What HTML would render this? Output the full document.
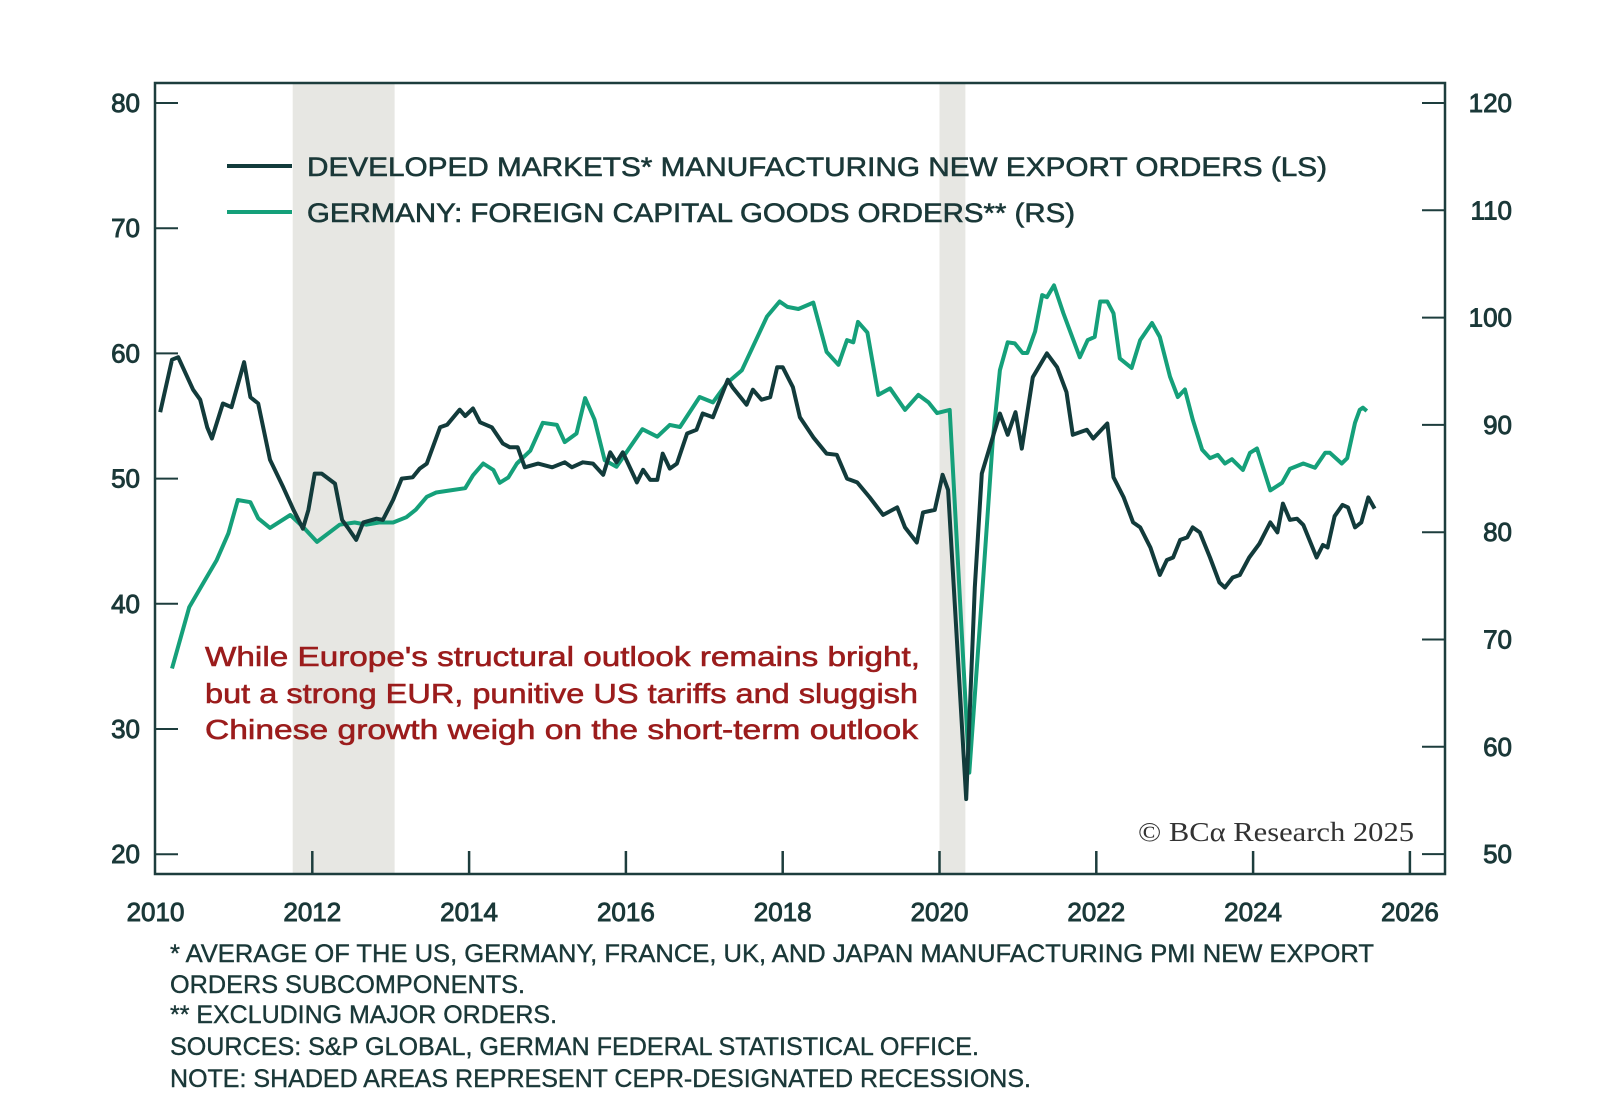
<!DOCTYPE html>
<html><head><meta charset="utf-8"><style>
html,body{margin:0;padding:0;background:#fff;}
svg{display:block;}
text{font-family:"Liberation Sans",sans-serif;}
</style></head><body>
<svg id="chart" width="1600" height="1107" viewBox="0 0 1600 1107">
<g id="shade"></g>
<g id="axes"></g>
<g id="series"></g>
<g stroke="#1a3838" stroke-width="0.6">
<line x1="227" y1="166" x2="292" y2="166" stroke="#123b3b" stroke-width="4"/>
<text x="307" y="176" font-size="27" fill="#1a3838" textLength="1020" lengthAdjust="spacingAndGlyphs">DEVELOPED MARKETS* MANUFACTURING NEW EXPORT ORDERS (LS)</text>
<line x1="227" y1="212" x2="292" y2="212" stroke="#15a07a" stroke-width="4"/>
<text x="307" y="222" font-size="27" fill="#1a3838" textLength="768" lengthAdjust="spacingAndGlyphs">GERMANY: FOREIGN CAPITAL GOODS ORDERS** (RS)</text>
</g>
<g fill="#9b1c1c" stroke="#9b1c1c" stroke-width="0.6" font-size="28">
<text x="205" y="666" textLength="715" lengthAdjust="spacingAndGlyphs">While Europe's structural outlook remains bright,</text>
<text x="205" y="703" textLength="713" lengthAdjust="spacingAndGlyphs">but a strong EUR, punitive US tariffs and sluggish</text>
<text x="205" y="739" textLength="713" lengthAdjust="spacingAndGlyphs">Chinese growth weigh on the short-term outlook</text>
</g>
<text x="1138" y="841" font-size="27" fill="#333" textLength="276" lengthAdjust="spacingAndGlyphs" style="font-family:'Liberation Serif',serif">© BCα Research 2025</text>
<g fill="#1a3838" stroke="#1a3838" stroke-width="0.4" font-size="25">
<text x="170" y="962" textLength="1204" lengthAdjust="spacingAndGlyphs">* AVERAGE OF THE US, GERMANY, FRANCE, UK, AND JAPAN MANUFACTURING PMI NEW EXPORT</text>
<text x="170" y="993" textLength="355" lengthAdjust="spacingAndGlyphs">ORDERS SUBCOMPONENTS.</text>
<text x="170" y="1023" textLength="387" lengthAdjust="spacingAndGlyphs">** EXCLUDING MAJOR ORDERS.</text>
<text x="170" y="1055" textLength="809" lengthAdjust="spacingAndGlyphs">SOURCES: S&amp;P GLOBAL, GERMAN FEDERAL STATISTICAL OFFICE.</text>
<text x="170" y="1087" textLength="861" lengthAdjust="spacingAndGlyphs">NOTE: SHADED AREAS REPRESENT CEPR-DESIGNATED RECESSIONS.</text>
</g>
</svg>
<script>
const recessionStarts=[2011.75,2020.0];
const recessionEnds=[2013.05,2020.33];
const leftTicks=[20,30,40,50,60,70,80];
const rightTicks=[50,60,70,80,90,100,110,120];
const yearTicks=[2010,2012,2014,2016,2018,2020,2022,2024,2026];
const dmDates=[2010.06,2010.21,2010.29,2010.48,2010.57,2010.66,2010.72,2010.86,2010.97,2011.13,2011.21,2011.31,2011.46,2011.63,2011.76,2011.88,2011.95,2012.03,2012.12,2012.29,2012.38,2012.45,2012.56,2012.65,2012.82,2012.9,2013.03,2013.14,2013.28,2013.37,2013.46,2013.63,2013.72,2013.88,2013.95,2014.05,2014.14,2014.29,2014.43,2014.52,2014.62,2014.71,2014.88,2015.06,2015.22,2015.31,2015.45,2015.58,2015.71,2015.8,2015.88,2015.96,2016.14,2016.22,2016.31,2016.4,2016.47,2016.56,2016.65,2016.78,2016.9,2016.98,2017.11,2017.3,2017.36,2017.54,2017.62,2017.73,2017.84,2017.93,2018.0,2018.13,2018.22,2018.39,2018.56,2018.69,2018.82,2018.95,2019.11,2019.28,2019.46,2019.56,2019.71,2019.79,2019.94,2020.04,2020.11,2020.34,2020.45,2020.54,2020.64,2020.77,2020.87,2020.97,2021.05,2021.19,2021.37,2021.5,2021.62,2021.7,2021.88,2021.96,2022.14,2022.22,2022.35,2022.47,2022.56,2022.69,2022.81,2022.9,2022.98,2023.07,2023.16,2023.23,2023.32,2023.45,2023.57,2023.64,2023.74,2023.83,2023.95,2024.08,2024.22,2024.31,2024.38,2024.47,2024.56,2024.64,2024.81,2024.89,2024.95,2025.04,2025.14,2025.21,2025.3,2025.38,2025.47,2025.55];
const dmValues=[55.3,59.5,59.7,57.1,56.3,54.1,53.2,56.0,55.7,59.3,56.5,56.0,51.5,49.3,47.5,46.0,47.5,50.4,50.4,49.6,46.7,46.1,45.1,46.5,46.8,46.7,48.3,50.0,50.1,50.8,51.2,54.1,54.3,55.5,55.0,55.6,54.5,54.1,52.8,52.5,52.5,50.9,51.2,50.9,51.3,50.9,51.3,51.2,50.3,52.1,51.3,52.1,49.7,50.7,49.9,49.9,52.0,50.8,51.2,53.6,53.9,55.2,54.9,57.9,57.3,55.9,57.1,56.3,56.5,58.9,58.9,57.3,54.9,53.3,52.0,51.9,50.0,49.7,48.5,47.1,47.7,46.1,44.9,47.3,47.5,50.3,49.1,24.4,41.3,50.4,52.5,55.2,53.5,55.3,52.4,58.1,60.0,58.9,56.9,53.5,53.9,53.2,54.4,50.1,48.5,46.5,46.1,44.5,42.3,43.5,43.7,45.1,45.3,46.1,45.7,43.7,41.7,41.3,42.1,42.3,43.7,44.8,46.5,45.7,48.0,46.7,46.8,46.3,43.7,44.7,44.5,47.0,47.9,47.7,46.1,46.5,48.5,47.6];
const deDates=[2010.21,2010.43,2010.62,2010.78,2010.93,2011.05,2011.21,2011.31,2011.46,2011.72,2011.88,2012.06,2012.35,2012.54,2012.69,2012.85,2013.03,2013.2,2013.32,2013.46,2013.58,2013.76,2013.95,2014.05,2014.18,2014.31,2014.39,2014.5,2014.61,2014.78,2014.94,2015.12,2015.22,2015.37,2015.48,2015.6,2015.73,2015.88,2016.05,2016.21,2016.4,2016.56,2016.69,2016.94,2017.11,2017.29,2017.48,2017.8,2017.96,2018.06,2018.2,2018.39,2018.56,2018.71,2018.82,2018.9,2018.96,2019.08,2019.22,2019.37,2019.56,2019.73,2019.86,2019.97,2020.13,2020.38,2020.55,2020.68,2020.77,2020.87,2020.96,2021.06,2021.12,2021.22,2021.31,2021.37,2021.46,2021.58,2021.79,2021.89,2021.98,2022.05,2022.14,2022.22,2022.3,2022.45,2022.56,2022.71,2022.81,2022.94,2023.04,2023.13,2023.23,2023.35,2023.45,2023.55,2023.64,2023.73,2023.87,2023.96,2024.05,2024.22,2024.37,2024.47,2024.64,2024.79,2024.92,2024.98,2025.13,2025.2,2025.3,2025.36,2025.4,2025.45];
const deValues=[67.3,73.0,75.4,77.4,79.9,83.0,82.8,81.3,80.4,81.6,80.5,79.1,80.7,80.9,80.7,80.9,80.9,81.4,82.1,83.3,83.7,83.9,84.1,85.3,86.4,85.8,84.6,85.1,86.4,87.6,90.2,90.0,88.4,89.2,92.5,90.5,86.7,86.1,87.9,89.6,88.9,90.0,89.8,92.6,92.1,93.9,95.1,100.1,101.5,101.0,100.8,101.4,96.8,95.6,97.9,97.7,99.6,98.6,92.8,93.4,91.4,92.8,92.1,91.1,91.4,57.6,74.9,88.6,95.1,97.7,97.6,96.7,96.7,98.7,102.1,101.9,103.0,100.4,96.3,97.9,98.2,101.5,101.5,100.4,96.2,95.3,97.9,99.5,98.2,94.5,92.6,93.3,90.5,87.7,86.9,87.2,86.4,86.8,85.8,87.4,87.8,83.9,84.6,85.9,86.4,86.0,87.4,87.4,86.4,86.9,90.2,91.4,91.6,91.3];

const NS='http://www.w3.org/2000/svg';
const FL=155,FR=1445,FT=83,FB=874;
function xS(t){return 155.5+(t-2010)*78.4;}
function yL(v){return 103+(80-v)*12.52;}
function yR(v){return 103+(120-v)*10.73;}
function mk(tag,parent,attrs){const e=document.createElementNS(NS,tag);for(const k in attrs)e.setAttribute(k,attrs[k]);parent.appendChild(e);return e;}
const AX='#1d3d3d';
const shade=document.getElementById('shade');
recessionStarts.forEach((s,i)=>{
  const r=mk('rect',shade,{x:xS(s),y:FT,width:xS(recessionEnds[i])-xS(s),height:FB-FT,fill:'#e7e7e3'});
  
  
});
const axes=document.getElementById('axes');
const fr=mk('rect',axes,{x:FL,y:FT,width:FR-FL,height:FB-FT,fill:'none',stroke:AX,'stroke-width':2.5});


leftTicks.forEach(v=>{
  const l=mk('line',axes,{x1:FL,x2:FL+23,y1:yL(v),y2:yL(v),stroke:AX,'stroke-width':2});
  
  
  const t=mk('text',axes,{x:140,y:yL(v)+9,'text-anchor':'end','font-size':26,fill:'#1a3838',stroke:'#1a3838','stroke-width':0.9});
  t.textContent=v;
  
  
});
rightTicks.forEach(v=>{
  const l=mk('line',axes,{x1:FR-23,x2:FR,y1:yR(v),y2:yR(v),stroke:AX,'stroke-width':2});
  
  
  const t=mk('text',axes,{x:1512,y:yR(v)+9,'text-anchor':'end','font-size':26,fill:'#1a3838',stroke:'#1a3838','stroke-width':0.9});
  t.textContent=v;
  
  
});
yearTicks.forEach(y=>{
  if(y>2010){
    const l=mk('line',axes,{x1:xS(y),x2:xS(y),y1:FB-23,y2:FB,stroke:AX,'stroke-width':2.5});
    
    
  }
  const t=mk('text',axes,{x:xS(y),y:921,'text-anchor':'middle','font-size':26,fill:'#1a3838',stroke:'#1a3838','stroke-width':0.9});
  t.textContent=y;
  
  
});
const series=document.getElementById('series');
function pathFrom(d,v,yf){return d.map((t,i)=>(i?'L':'M')+xS(t).toFixed(1)+','+yf(v[i]).toFixed(1)).join('');}
const gp=mk('path',series,{d:pathFrom(deDates,deValues,yR),fill:'none',stroke:'#15a07a','stroke-width':4,'stroke-linejoin':'round'});


const dp=mk('path',series,{d:pathFrom(dmDates,dmValues,yL),fill:'none',stroke:'#123b3b','stroke-width':4,'stroke-linejoin':'round'});


</script>
</body></html>
